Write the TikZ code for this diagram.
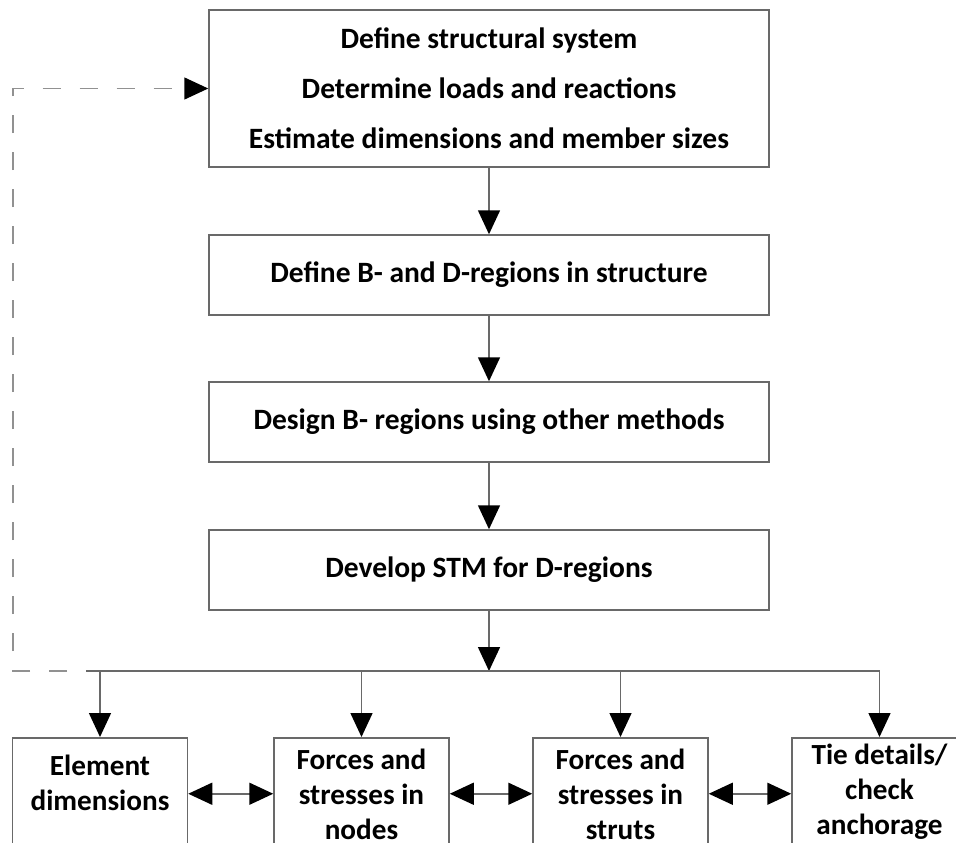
\documentclass[tikz,border=0pt]{standalone}
\usepackage{fontspec}
\setmainfont{Carlito}
\usetikzlibrary{arrows.meta}

\definecolor{linegray}{RGB}{105,105,105}
\definecolor{dashgray}{RGB}{145,145,145}

\tikzset{
  stepbox/.style={draw=linegray, line width=1.5pt, minimum width=560pt,
    minimum height=80pt, align=center, font=\fontsize{29.5}{35}\selectfont\bfseries},
  bottombox/.style={draw=linegray, line width=1.5pt, minimum width=175pt,
    minimum height=112pt, anchor=north},
  boxtext/.style={align=center, font=\fontsize{29.2}{35}\selectfont\bfseries},
  flow/.style={draw=linegray, line width=1.5pt, -{Triangle[length=24pt,width=22pt,color=black]}},
  twoway/.style={draw=linegray, line width=1.5pt,
    {Triangle[length=24pt,width=22pt,color=black]}-{Triangle[length=24pt,width=22pt,color=black]}},
  feedback/.style={draw=dashgray, line width=1.5pt, dash pattern=on 18pt off 19pt,
    dash phase=18pt, -{Triangle[length=24pt,width=22pt,color=black]}}
}

\begin{document}
\begin{tikzpicture}[x=1pt,y=-1pt]
             \useasboundingbox (0,0) rectangle (956,843);
             \clip (0,0) rectangle (956,843);

             % main steps
             \node[stepbox, minimum height=157pt, font=\fontsize{29.5}{50}\selectfont\bfseries] (system) at (489,88.5)
               {Define structural system\\Determine loads and reactions\\Estimate dimensions and member sizes};
             \node[stepbox] (regions) at (489,275) {Define B- and D-regions in structure};
             \node[stepbox] (bdesign) at (489,422) {Design B- regions using other methods};
             \node[stepbox] (stm) at (489,570) {Develop STM for D-regions};

             \draw[flow] (system) -- (regions);
             \draw[flow] (regions) -- (bdesign);
             \draw[flow] (bdesign) -- (stm);

             % distribution line
             \coordinate (bus) at (489,671);
             \coordinate (busleft) at (86,671);
             \coordinate (fbcorner) at (13,671);

             % checks
             \node[bottombox] (elem) at (100,737) {};
             \node[bottombox] (nodes) at (361.5,737) {};
             \node[bottombox] (struts) at (620.5,737) {};
             \node[bottombox] (ties) at (879.5,737) {};
             \node[boxtext] (elemtext) at (100,783) {Element\\dimensions};
             \node[boxtext] (nodestext) at (361.5,794) {Forces and\\stresses in\\nodes};
             \node[boxtext] (strutstext) at (620.5,794) {Forces and\\stresses in\\struts};
             \node[boxtext] (tiestext) at (879.5,792) {Tie details/\\check\\anchorage};

             \draw[flow] (stm) -- (bus);
             \draw[draw=linegray, line width=1.5pt] (busleft) -- (bus -| ties);
             \draw[flow] (bus -| elem) -- (elem);
             \draw[flow] (bus -| nodes) -- (nodes);
             \draw[flow] (bus -| struts) -- (struts);
             \draw[flow] (bus -| ties) -- (ties);

             \draw[twoway] (elem) -- (nodes);
             \draw[twoway] (nodes) -- (struts);
             \draw[twoway] (struts) -- (ties);

             % iterate
             \draw[feedback] (busleft) -- (fbcorner) |- (system.west);
\end{tikzpicture}
\end{document}
